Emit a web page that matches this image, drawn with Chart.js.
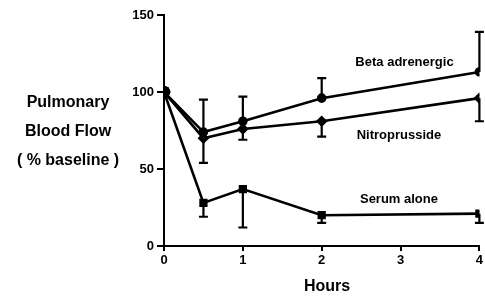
<!DOCTYPE html>
<html>
<head>
<meta charset="utf-8">
<script src="https://cdn.jsdelivr.net/npm/chart.js@4"></script>
<style>
  html, body { margin: 0; padding: 0; background: #fff; overflow: hidden; }
  #wrap { width: 487px; height: 297px; }
</style>
</head>
<body>
<div id="wrap"><canvas id="flowChart" width="487" height="297"></canvas></div>
<script>
// hours after start
const hours = [0, 0.5, 1, 2, 4];

// % baseline
const betaFlow = [100, 74, 81, 96, 113];
const nitroFlow = [100, 70, 76, 81, 96];
const serumFlow = [100, 28, 37, 20, 21];

// one sided error bars (beta goes up, others go down)
const betaErrUp = [0, 21, 16, 13, 26];
const nitroErrDown = [0, 16, 7, 10, 15];
const serumErrDown = [0, 9, 25, 5, 6];

const seriesNames = ['Beta adrenergic', 'Nitroprusside', 'Serum alone'];
const yTitleLines = ['Pulmonary', 'Blood Flow', '( % baseline )'];
const xTitle = 'Hours';
const yTicks = [0, 50, 100, 150];
const xTicks = [0, 1, 2, 3, 4];

const FONT = '"Liberation Sans", Arial, Helvetica, sans-serif';

function pts(vals) {
    return hours.map((h, i) => ({ x: h, y: vals[i] }));
}

const errorBars = {
    id: 'errorBars',
    afterDatasetsDraw(chart) {
        const { ctx, scales: { x, y } } = chart;
        ctx.save();
        ctx.strokeStyle = '#000';
        ctx.lineWidth = 2.2;
        const draw = (vals, errs, dir) => {
            vals.forEach((v, i) => {
                if (!errs[i]) return;
                const px = x.getPixelForValue(hours[i]);
                const y0 = y.getPixelForValue(v);
                const y1 = y.getPixelForValue(v + dir * errs[i]);
                ctx.beginPath();
                ctx.moveTo(px, y0);
                ctx.lineTo(px, y1);
                ctx.moveTo(px - 4.5, y1);
                ctx.lineTo(px + 4.5, y1);
                ctx.stroke();
            });
        };
        draw(betaFlow, betaErrUp, 1);
        draw(nitroFlow, nitroErrDown, -1);
        draw(serumFlow, serumErrDown, -1);

        // series labels
        ctx.fillStyle = '#000';
        ctx.font = 'bold 13px ' + FONT;
        ctx.textAlign = 'center';
        ctx.textBaseline = 'middle';
        ctx.fillText(seriesNames[0], x.getPixelForValue(3.05), y.getPixelForValue(119.5));
        ctx.fillText(seriesNames[1], x.getPixelForValue(2.98), y.getPixelForValue(72));
        ctx.fillText(seriesNames[2], x.getPixelForValue(2.98), y.getPixelForValue(30.5));

        // axis titles
        ctx.font = 'bold 16px ' + FONT;
        yTitleLines.forEach((t, i) => ctx.fillText(t, 68, 103 + i * 29));
        ctx.fillText(xTitle, 327, 287);
        ctx.restore();
    }
};

const ctx = document.getElementById('flowChart').getContext('2d');

const lineStyle = { borderColor: '#000', backgroundColor: '#000', borderWidth: 2.6, showLine: true, tension: 0 };

new Chart(ctx, {
    type: 'scatter',
    data: {
        datasets: [
            { ...lineStyle, label: seriesNames[0], data: pts(betaFlow), pointStyle: 'circle', pointRadius: [5, 3.5, 3.5, 3.5, 3.5] },
            { ...lineStyle, label: seriesNames[1], data: pts(nitroFlow), pointStyle: 'rectRot', pointRadius: [5, 4, 4, 4, 4] },
            { ...lineStyle, label: seriesNames[2], data: pts(serumFlow), pointStyle: 'rect', pointRadius: [5, 4, 4, 4, 4] }
        ]
    },
    options: {
        responsive: false,
        animation: false,
        layout: { padding: { top: 15, right: 0, left: 0, bottom: 0 } },
        plugins: { legend: { display: false }, tooltip: { enabled: false } },
        scales: {
            x: {
                type: 'linear', min: 0, max: 4,
                afterFit(scale) { scale.height = 51; },
                afterBuildTicks(scale) { scale.ticks = xTicks.map(v => ({ value: v })); },
                border: { display: true, color: '#000', width: 2 },
                grid: { display: true, drawOnChartArea: false, drawTicks: true, tickLength: 5, color: '#000', lineWidth: 2 },
                ticks: { color: '#000', font: { family: FONT, size: 13, weight: 'bold' }, padding: 2, maxRotation: 0 }
            },
            y: {
                min: 0, max: 150,
                afterFit(scale) { scale.width = 164; },
                afterBuildTicks(scale) { scale.ticks = yTicks.map(v => ({ value: v })); },
                border: { display: true, color: '#000', width: 2 },
                grid: { display: true, drawOnChartArea: false, drawTicks: true, tickLength: 7, color: '#000', lineWidth: 2 },
                ticks: { color: '#000', font: { family: FONT, size: 13, weight: 'bold' }, padding: 3 }
            }
        }
    },
    plugins: [errorBars]
});
</script>
</body>
</html>
